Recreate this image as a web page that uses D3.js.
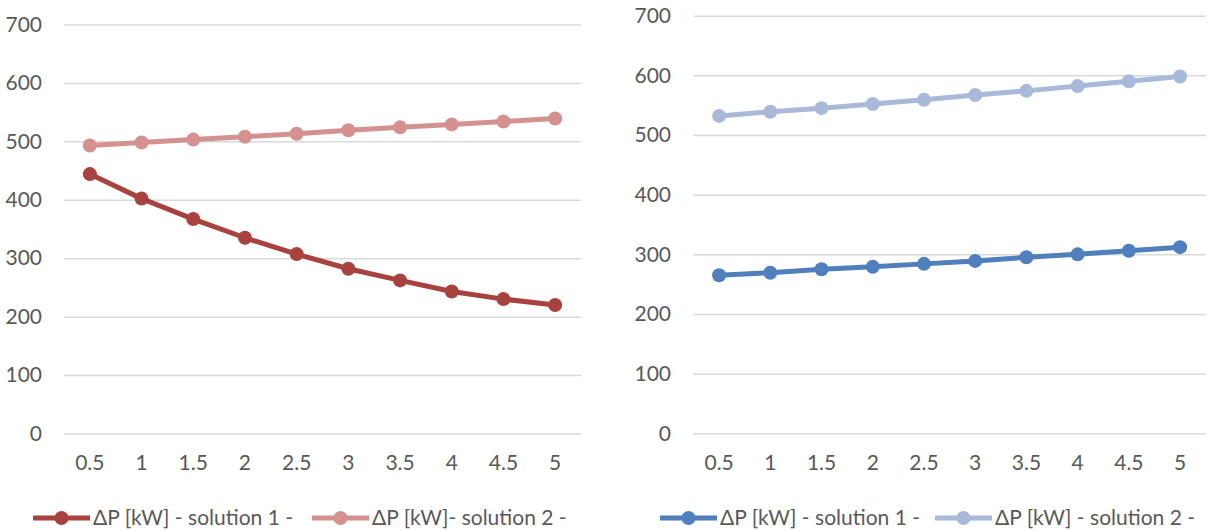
<!DOCTYPE html>
<html>
<head>
<meta charset="utf-8">
<script src="https://cdn.jsdelivr.net/npm/d3@7"></script>
<style>
  body { margin: 0; background: #fff; }
  svg { display: block; }
  text { font-family: Lato, "Open Sans", sans-serif; fill: #595959; }
</style>
</head>
<body>
<svg id="chart" width="1209" height="531"></svg>
<script>
// categories on the x axis
const categories = ["0.5", "1", "1.5", "2", "2.5", "3", "3.5", "4", "4.5", "5"];
const yTicks = [0, 100, 200, 300, 400, 500, 600, 700];

// left chart
const leftSolution1 = [444, 402, 367, 335, 307, 282, 262, 243, 230, 220];
const leftSolution2 = [493, 498, 503, 508, 513, 519, 524, 529, 534, 539];
const leftNames = ["ΔP [kW] - solution 1 -", "ΔP [kW]- solution 2 -"];

// right chart
const rightSolution1 = [265, 269, 275, 279, 284, 289, 295, 300, 306, 312];
const rightSolution2 = [532, 539, 545, 552, 559, 567, 574, 582, 590, 598];
const rightNames = ["ΔP [kW] - solution 1 -", "ΔP [kW] - solution 2 -"];

const fontSize = "21px";
const svg = d3.select("#chart");

function drawChart(opts) {
    const x = d3.scaleBand().domain(categories).range([opts.x0, opts.x1]).padding(0);
    const y = d3.scaleLinear().domain([0, 700]).range([opts.yBottom, opts.yTop]);
    const g = svg.append("g");

    // gridlines + y labels
    const yAxis = g.append("g")
        .attr("transform", `translate(${opts.x0},0)`)
        .call(d3.axisLeft(y).tickValues(yTicks).tickSize(-(opts.x1 - opts.x0)).tickPadding(opts.labelGap));
    yAxis.select(".domain").remove();
    yAxis.selectAll("line").attr("stroke", "#d9d9d9").attr("stroke-width", 1.5);
    yAxis.selectAll("text").style("font-size", fontSize).attr("fill", "#595959");

    // x labels
    const xAxis = g.append("g")
        .attr("transform", `translate(0,${opts.yBottom})`)
        .call(d3.axisBottom(x).tickSize(0).tickPadding(22));
    xAxis.select(".domain").remove();
    xAxis.selectAll("text").style("font-size", fontSize).attr("fill", "#595959");

    const line = d3.line()
        .x((d, i) => x(categories[i]) + x.bandwidth() / 2)
        .y(d => y(d));

    opts.series.forEach(s => {
        g.append("path")
            .datum(s.values)
            .attr("fill", "none")
            .attr("stroke", s.color)
            .attr("stroke-width", 5)
            .attr("stroke-linejoin", "round")
            .attr("d", line);
        g.append("g").selectAll("circle")
            .data(s.values)
            .join("circle")
            .attr("cx", (d, i) => x(categories[i]) + x.bandwidth() / 2)
            .attr("cy", d => y(d))
            .attr("r", 7)
            .attr("fill", s.color);
    });

    // legend
    const legend = g.append("g").attr("transform", `translate(0,518)`);
    opts.series.forEach((s, i) => {
        const lx = opts.legendX[i];
        const item = legend.append("g").attr("transform", `translate(${lx},0)`);
        item.append("line")
            .attr("x1", 0).attr("x2", 57)
            .attr("stroke", s.color).attr("stroke-width", 5);
        item.append("circle").attr("cx", 28.5).attr("r", 7).attr("fill", s.color);
        item.append("text")
            .attr("x", 60).attr("dy", "0.35em")
            .style("font-size", fontSize)
            .text(s.name);
    });
}

drawChart({
    x0: 64, x1: 581, yBottom: 433.5, yTop: 24.5, labelGap: 22,
    legendX: [33, 312],
    series: [
        {name: leftNames[0], values: leftSolution1, color: "#a8423f"},
        {name: leftNames[1], values: leftSolution2, color: "#d4918f"}
    ]
});

drawChart({
    x0: 693.5, x1: 1205.7, yBottom: 433.3, yTop: 15.7, labelGap: 22.5,
    legendX: [660, 935],
    series: [
        {name: rightNames[0], values: rightSolution1, color: "#4f7fbd"},
        {name: rightNames[1], values: rightSolution2, color: "#a9b9d9"}
    ]
});
</script>
</body>
</html>
